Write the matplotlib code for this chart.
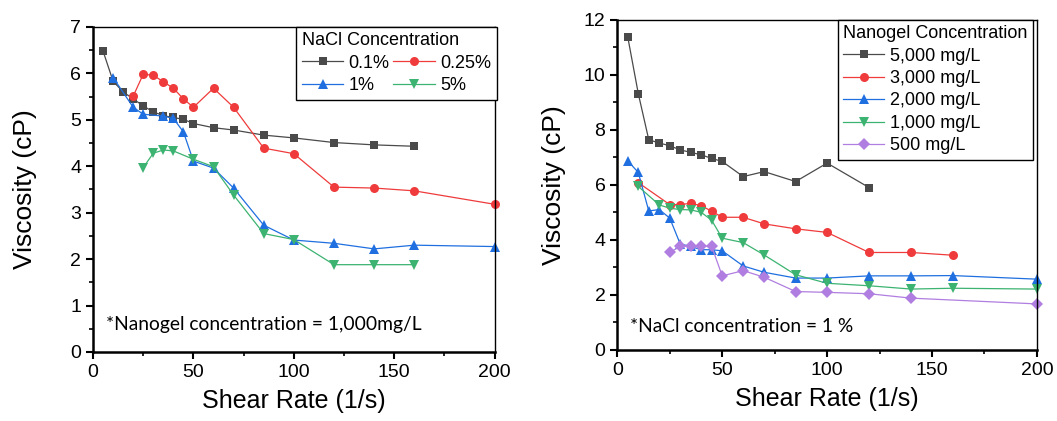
import matplotlib
matplotlib.use("Agg")
import matplotlib.pyplot as plt
from matplotlib.ticker import MultipleLocator

# Left panel: NaCl concentration (nanogel = 1,000 mg/L)
x_01 = [5, 10, 15, 20, 25, 30, 35, 40, 45, 50, 60, 70, 85, 100, 120, 140, 160]
y_01 = [6.48, 5.83, 5.60, 5.45, 5.30, 5.17, 5.09, 5.05, 5.01, 4.92, 4.83, 4.78, 4.67, 4.61, 4.51, 4.46, 4.43]

x_025 = [20, 25, 30, 35, 40, 45, 50, 60, 70, 85, 100, 120, 140, 160, 200]
y_025 = [5.51, 5.98, 5.96, 5.82, 5.68, 5.45, 5.27, 5.68, 5.27, 4.39, 4.27, 3.55, 3.53, 3.47, 3.18]

x_1 = [10, 20, 25, 35, 40, 45, 50, 60, 70, 85, 100, 120, 140, 160, 200]
y_1 = [5.91, 5.27, 5.12, 5.08, 5.03, 4.74, 4.11, 3.96, 3.53, 2.73, 2.41, 2.34, 2.22, 2.30, 2.27]

x_5 = [25, 30, 35, 40, 50, 60, 70, 85, 100, 120, 140, 160]
y_5 = [3.97, 4.28, 4.35, 4.33, 4.15, 3.99, 3.38, 2.55, 2.42, 1.88, 1.88, 1.88]

# Right panel: nanogel concentration (NaCl = 1 %)
x_5000 = [5, 10, 15, 20, 25, 30, 35, 40, 45, 50, 60, 70, 85, 100, 120]
y_5000 = [11.37, 9.32, 7.64, 7.52, 7.42, 7.27, 7.18, 7.09, 6.96, 6.85, 6.30, 6.48, 6.12, 6.79, 5.90]

x_3000 = [10, 25, 30, 35, 40, 45, 50, 60, 70, 85, 100, 120, 140, 160]
y_3000 = [6.08, 5.28, 5.28, 5.33, 5.24, 5.04, 4.82, 4.82, 4.58, 4.40, 4.27, 3.54, 3.54, 3.44]

x_2000 = [5, 10, 15, 20, 25, 30, 35, 40, 45, 50, 60, 70, 85, 100, 120, 140, 160, 200]
y_2000 = [6.87, 6.45, 5.05, 5.10, 4.79, 3.85, 3.76, 3.64, 3.64, 3.60, 3.05, 2.82, 2.61, 2.61, 2.69, 2.69, 2.70, 2.57]

x_1000 = [10, 20, 25, 30, 35, 40, 45, 50, 60, 70, 85, 100, 120, 140, 160, 200]
y_1000 = [5.94, 5.27, 5.15, 5.10, 5.09, 5.00, 4.71, 4.06, 3.90, 3.45, 2.73, 2.42, 2.33, 2.21, 2.24, 2.21]

x_500 = [25, 30, 35, 40, 45, 50, 60, 70, 85, 100, 120, 140, 200]
y_500 = [3.54, 3.76, 3.78, 3.78, 3.76, 2.69, 2.88, 2.64, 2.12, 2.09, 2.04, 1.88, 1.67]

# Colours of the series
CORES = {
    "preto": "#4a4a4a",
    "vermelho": "#ef3b3b",
    "azul": "#1f6fe0",
    "verde": "#3cb371",
    "roxo": "#b07ee0",
}

FONTE = ["Liberation Sans", "DejaVu Sans"]
FONTE_NOTA = ["Lato", "DejaVu Sans"]


def serie(ax, x, y, cor, marcador, rotulo, ms=6.5):
    ax.plot(x, y, color=cor, marker=marcador, markersize=ms, linewidth=0.9,
            markeredgewidth=0, label=rotulo, clip_on=False)


def estilo_eixos(ax, ymax, ymaj, ymin, pad_y):
    ax.set_xlim(0, 200)
    ax.set_ylim(0, ymax)
    ax.xaxis.set_major_locator(MultipleLocator(50))
    ax.xaxis.set_minor_locator(MultipleLocator(25))
    ax.yaxis.set_major_locator(MultipleLocator(ymaj))
    ax.yaxis.set_minor_locator(MultipleLocator(ymin))
    ax.tick_params(which="major", direction="out", length=5, width=1.5, labelsize=14)
    ax.tick_params(which="minor", direction="out", length=3, width=1.2)
    for lbl in ax.get_xticklabels() + ax.get_yticklabels():
        lbl.set_fontfamily(FONTE)
    for lado in ["left", "bottom"]:
        ax.spines[lado].set_linewidth(1.8)
    for lado in ["top", "right"]:
        ax.spines[lado].set_linewidth(1.0)
    ax.set_xlabel("Shear Rate (1/s)", fontsize=18, family=FONTE, labelpad=6)
    ax.set_ylabel("Viscosity (cP)", fontsize=19, family=FONTE, labelpad=pad_y)


def legenda(ax, titulo, ancora, **kw):
    leg = ax.legend(title=titulo, loc="upper right", bbox_to_anchor=ancora,
                    fancybox=False, edgecolor="black", framealpha=1,
                    prop={"family": FONTE, "size": 13},
                    title_fontproperties={"family": FONTE, "size": 13},
                    handlelength=2.3, handletextpad=0.3, labelspacing=0.3,
                    borderpad=0.3, borderaxespad=0, **kw)
    leg._legend_box.align = "left"
    leg.get_frame().set_linewidth(1.0)
    return leg


fig = plt.figure(figsize=(10.57, 4.21), dpi=100)

# ---- left panel
ax1 = fig.add_axes([0.088, 0.164, 0.380, 0.772])
serie(ax1, x_01, y_01, CORES["preto"], "s", "0.1%", ms=6)
serie(ax1, x_025, y_025, CORES["vermelho"], "o", "0.25%")
serie(ax1, x_1, y_1, CORES["azul"], "^", "1%", ms=7)
serie(ax1, x_5, y_5, CORES["verde"], "v", "5%", ms=7)
estilo_eixos(ax1, 7, 1, 0.5, pad_y=24)
h, l = ax1.get_legend_handles_labels()
ordem = [0, 2, 1, 3]
legenda(ax1, "NaCl Concentration", (1.005, 1.0), ncol=2, columnspacing=0.2,
        handles=[h[i] for i in ordem], labels=[l[i] for i in ordem])
ax1.text(0.032, 0.083, "*Nanogel concentration = 1,000mg/L", transform=ax1.transAxes,
         fontsize=13.9, family=FONTE_NOTA, va="center", ha="left")

# ---- right panel
ax2 = fig.add_axes([0.584, 0.169, 0.397, 0.784])
serie(ax2, x_5000, y_5000, CORES["preto"], "s", "5,000 mg/L", ms=6)
serie(ax2, x_3000, y_3000, CORES["vermelho"], "o", "3,000 mg/L")
serie(ax2, x_2000, y_2000, CORES["azul"], "^", "2,000 mg/L", ms=7)
serie(ax2, x_1000, y_1000, CORES["verde"], "v", "1,000 mg/L", ms=7)
serie(ax2, x_500, y_500, CORES["roxo"], "D", "500 mg/L", ms=6)
estilo_eixos(ax2, 12, 2, 1, pad_y=13)
legenda(ax2, "Nanogel Concentration", (0.99, 1.0))
ax2.text(0.031, 0.07, "*NaCl concentration = 1 %", transform=ax2.transAxes,
         fontsize=13.8, family=FONTE_NOTA, va="center", ha="left")

fig.savefig("out.png", dpi=100)
plt.close(fig)
